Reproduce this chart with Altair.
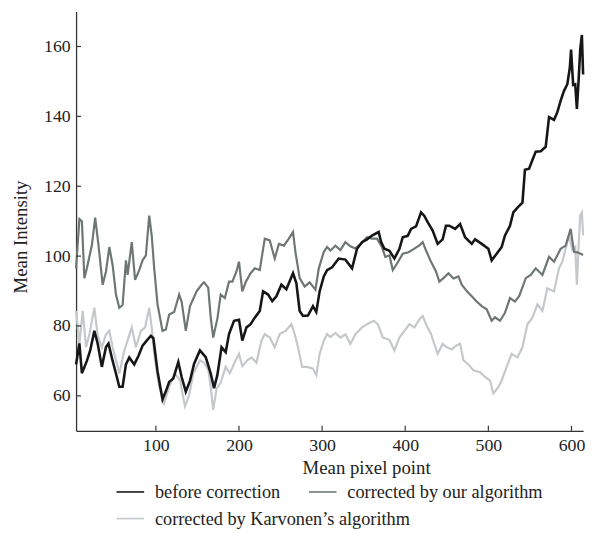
import altair as alt
import pandas as pd

series_names = ["before correction", "corrected by our algorithm", "corrected by Karvonen\u2019s algorithm"]
series_colors = ["#161616", "#6e7674", "#c5c8cb"]

black_x = [4, 8, 11, 17, 21, 26, 30, 35, 40, 43, 48, 52, 56, 60, 64, 68, 74, 79, 84, 89, 94, 97,
           102, 108, 112, 116, 121, 127, 131, 136, 141, 146, 153, 160, 166, 170, 174, 179, 184, 188,
           194, 200, 204, 209, 214, 219, 225, 229, 235, 240, 245, 251, 257, 265, 269, 273, 277, 283,
           289, 293, 297, 302, 306, 312, 320, 328, 336, 342, 348, 354, 360, 368, 371, 375, 381, 387,
           393, 397, 403, 407, 413, 419, 423, 427, 433, 439, 445, 449, 453, 460, 466, 472, 480, 484,
           492, 500, 504, 510, 516, 520, 526, 530, 535, 541, 544, 549, 553, 557, 563, 569, 573, 579,
           583, 587, 591, 595, 598, 599.5, 602, 604.5, 606.5, 608.5, 610.5, 612.5, 614]
black_y = [69, 75, 66.5, 70, 73, 78.6, 75, 68.3, 74, 75, 70, 66.4, 62.6, 62.6, 69, 71, 69, 71.4, 74.4,
           75.8, 77.2, 76.5, 67, 59, 61.3, 64, 65, 69.7, 65.4, 61.2, 64.3, 69.2, 73, 71.1, 66.4, 62.2,
           66, 73.9, 72.5, 77.7, 81.5, 81.8, 75.8, 79.6, 80.5, 82.4, 84.3, 89.9, 89, 87.1, 88.5, 91.8,
           90.5, 95.1, 92.3, 84.3, 82.9, 83, 85.7, 84, 89.9, 94.2, 96, 96.8, 99.3, 99, 96.5, 102.1, 104,
           104.8, 105.9, 106.9, 104, 102.1, 101.5, 99.3, 102.1, 105.4, 105.8, 107.8, 108.5, 112.5,
           111.5, 109.7, 107.3, 103.5, 104.8, 108.7, 108.7, 107.8, 109.2, 105.4, 103.5, 104.8, 103.5,
           102.1, 98.8, 100.7, 102.6, 105.9, 108.7, 112.5, 113.9, 115.3, 124.7, 125, 127.5, 129.9, 130,
           131.3, 139.8, 139, 141.2, 144.5, 147.3, 149.2, 153.9, 159.1, 149, 149.2, 142.1, 150, 159.1,
           163.3, 152]

gray_x = [4, 8, 11, 14, 17, 23, 27, 31, 36, 40, 44, 48, 52, 56, 60, 64, 66, 71, 75, 80, 84, 88, 92,
          95, 98, 102, 108, 112, 116, 122, 128, 131, 136, 141, 149, 155, 158, 163, 166, 169, 174, 178,
          183, 188, 192, 197, 200, 204, 208, 214, 219, 225, 231, 237, 243, 248, 254, 260, 265, 268,
          273, 279, 285, 292, 296, 302, 306, 310, 316, 322, 328, 334, 340, 346, 354, 360, 366, 372,
          376, 381, 385, 390, 397, 404, 410, 417, 421, 425, 431, 437, 441, 446, 452, 458, 464, 468,
          474, 480, 486, 492, 498, 504, 508, 514, 520, 526, 532, 537, 545, 551, 557, 565, 573, 579,
          587, 593, 599, 603, 608, 614]
gray_y = [96.5, 110.6, 110, 93.7, 96.5, 103.1, 111, 103.1, 91.8, 95.6, 102.6, 97.4, 89, 85.2, 86,
          98.8, 94.6, 104, 93.2, 96, 98.8, 100.2, 111.6, 105.9, 96.5, 86.2, 78.6, 79, 83.3, 84, 89, 87,
          78.6, 85.6, 89.9, 91.8, 92.5, 91, 82.4, 76.7, 82.1, 89, 88, 92.7, 92.7, 95.6, 98.4, 89.9,
          92.5, 95.1, 96.5, 96, 105, 104.5, 99.3, 103.5, 103, 105, 106.9, 101, 93.7, 91.3, 92.5, 90.4,
          96.5, 101.2, 102.6, 101.6, 103, 101.7, 104, 102.8, 102.2, 103.4, 105.4, 105, 105, 102.6,
          99.8, 100.2, 96, 97.8, 100.7, 101.1, 102, 103.1, 104, 101.6, 98.4, 95.6, 92.7, 93.7, 95.1,
          93.6, 94.2, 91.8, 90, 88.5, 87, 85.7, 84.8, 81.5, 82.5, 81.5, 83.8, 88, 87, 88.5, 93.7, 94.6,
          96.5, 94.6, 99.8, 98.4, 102.1, 103, 107.8, 101.2, 101, 100.3]

light_x = [4, 8, 12, 16, 20, 26, 30, 35, 40, 44, 48, 56, 62, 66, 71, 76, 82, 87, 92, 95, 98, 104,
           110, 116, 123, 129, 135, 140, 145, 153, 158, 163, 166, 169, 173, 178, 184, 189, 195, 200,
           204, 210, 215, 221, 227, 231, 237, 243, 249, 256, 263, 267, 271, 276, 282, 289, 293, 297,
           302, 306, 310, 316, 322, 328, 334, 340, 348, 354, 362, 367, 373, 381, 387, 393, 399, 405,
           411, 417, 421, 425, 431, 439, 445, 450, 456, 462, 466, 470, 476, 482, 490, 496, 502, 506,
           512, 516, 522, 528, 535, 541, 547, 553, 559, 565, 571, 579, 585, 589, 593, 597, 601, 604.5,
           606.5, 608.5, 610.5, 612.5, 614]
light_y = [84.3, 74.9, 84.3, 73.9, 77.6, 85.2, 77.3, 73.9, 77.6, 78.6, 73.9, 66.4, 73, 75.8, 79.6,
           73.9, 78.6, 79.6, 85.2, 79.6, 72, 62.6, 57.9, 62.6, 66.4, 64.5, 57, 60.2, 66.4, 70.2, 69.5,
           67.5, 62.6, 56, 62, 63.8, 68.3, 66.5, 69.7, 72, 68.5, 70.2, 71, 69.5, 75.8, 77.7, 76.7, 73.9,
           77.7, 78.6, 80.5, 77.7, 73.9, 68.3, 68.3, 67.8, 65.9, 72, 75.8, 77.7, 76.8, 78, 76.7, 77.6,
           74.9, 77.6, 79.6, 80.5, 81.5, 80.5, 76.7, 76, 73, 76.7, 78.6, 80.5, 79.6, 81.9, 82.9, 80.5,
           77.7, 72, 74.9, 73.9, 73.3, 74.5, 74.9, 70.2, 69, 67.3, 66.8, 65.4, 64.4, 60.7, 62.5, 64.4,
           68.3, 72, 71, 73.9, 80.5, 82.4, 86.2, 84.3, 90.8, 89.9, 96.5, 98.4, 102.1, 105.9, 101.8,
           102.6, 91.8, 102.6, 111.6, 112.5, 105.9]

x_ticks = [100, 200, 300, 400, 500, 600]
y_ticks = [60, 80, 100, 120, 140, 160]

frames = []
for name, xs, ys in zip(series_names, [black_x, gray_x, light_x], [black_y, gray_y, light_y]):
    frames.append(pd.DataFrame({"x": xs, "y": ys, "series": name}))
df = pd.concat(frames, ignore_index=True)

W, H = 514, 425
FONT = "Liberation Serif"
TXT = "#222222"

xscale = alt.Scale(domain=[4, 614], nice=False, zero=False)
yscale = alt.Scale(domain=[50, 170], nice=False, zero=False)

xaxis = alt.Axis(values=x_ticks, title="Mean pixel point", ticks=False, grid=False,
                 labelFont=FONT, labelFontSize=18, labelColor=TXT, labelPadding=6,
                 titleFont=FONT, titleFontSize=19, titleFontWeight="normal", titleColor=TXT,
                 titleX=294, titleY=37, titleBaseline="middle", titleAlign="center",
                 domainColor="#333333", domainWidth=1.3)
yaxis = alt.Axis(values=y_ticks, title="Mean Intensity", ticks=False, grid=False,
                 labelFont=FONT, labelFontSize=18, labelColor=TXT, labelPadding=6,
                 titleFont=FONT, titleFontSize=19, titleFontWeight="normal", titleColor=TXT,
                 titleX=-56, titleY=228, titleBaseline="middle", titleAlign="center",
                 domainColor="#333333", domainWidth=1.3)

base = alt.Chart(df)


def line_layer(i, width, lx, ly):
    name = series_names[i]
    leg = alt.Legend(title=None, orient="none", legendX=lx, legendY=ly,
                     symbolType="stroke", symbolSize=784, symbolStrokeWidth=1.6,
                     labelFont=FONT, labelFontSize=18.5, labelColor=TXT,
                     labelOffset=10, labelLimit=400, padding=0)
    return base.transform_filter(alt.datum.series == name).mark_line(
        strokeWidth=width, interpolate="linear"
    ).encode(
        x=alt.X("x:Q", scale=xscale, axis=xaxis),
        y=alt.Y("y:Q", scale=yscale, axis=yaxis),
        color=alt.Color("series:N",
                        scale=alt.Scale(domain=[name], range=[series_colors[i]]),
                        legend=leg),
    )


xt = alt.Chart(pd.DataFrame({"t": x_ticks})).mark_rule(color="#333333", strokeWidth=1.2).encode(
    x=alt.X("t:Q", scale=xscale, axis=xaxis), y=alt.value(H), y2=alt.value(H - 5))
yt = alt.Chart(pd.DataFrame({"t": y_ticks})).mark_rule(color="#333333", strokeWidth=1.2).encode(
    y=alt.Y("t:Q", scale=yscale, axis=yaxis), x=alt.value(0), x2=alt.value(5))

chart = alt.layer(
    line_layer(2, 2.2, 40, 499),
    line_layer(1, 2.2, 235, 472),
    line_layer(0, 2.6, 40, 472),
    xt, yt,
).resolve_scale(color="independent").properties(
    width=W, height=H,
    autosize=alt.AutoSizeParams(type="none"),
    padding={"left": 69, "top": 0, "right": 9, "bottom": 100},
    background="white",
).configure_view(stroke=None)

chart.save("out.html", embed_options={"renderer": "svg", "actions": False})
